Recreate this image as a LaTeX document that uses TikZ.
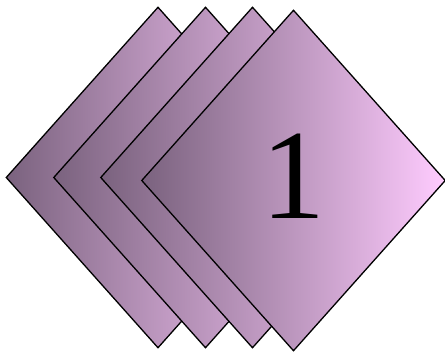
\documentclass[tikz,border=0pt]{standalone}
\usepackage{fontspec}
\setmainfont{Liberation Serif}
\usetikzlibrary{shapes.geometric}
\definecolor{darkplum}{RGB}{122,98,126}
\definecolor{lightpink}{RGB}{255,204,255}
\begin{document}
\begin{tikzpicture}[x=1pt,y=-1pt,
  card/.style={diamond, draw=black, line width=1.3pt, inner sep=0pt,
    minimum width=304pt, minimum height=341pt,
    left color=darkplum, right color=lightpink}]
\useasboundingbox (0,0) rectangle (445,356);
\node[card] (d1) at (158,177.5) {};
\node[card] (d2) at (205.5,177.5) {};
\node[card] (d3) at (252.5,177.5) {};
\node[card] (d4) at (293.5,180.5) {};
\node[inner sep=0pt, font=\fontsize{128}{128}\selectfont] (one) at (293,176.5) {1};
\end{tikzpicture}
\end{document}
